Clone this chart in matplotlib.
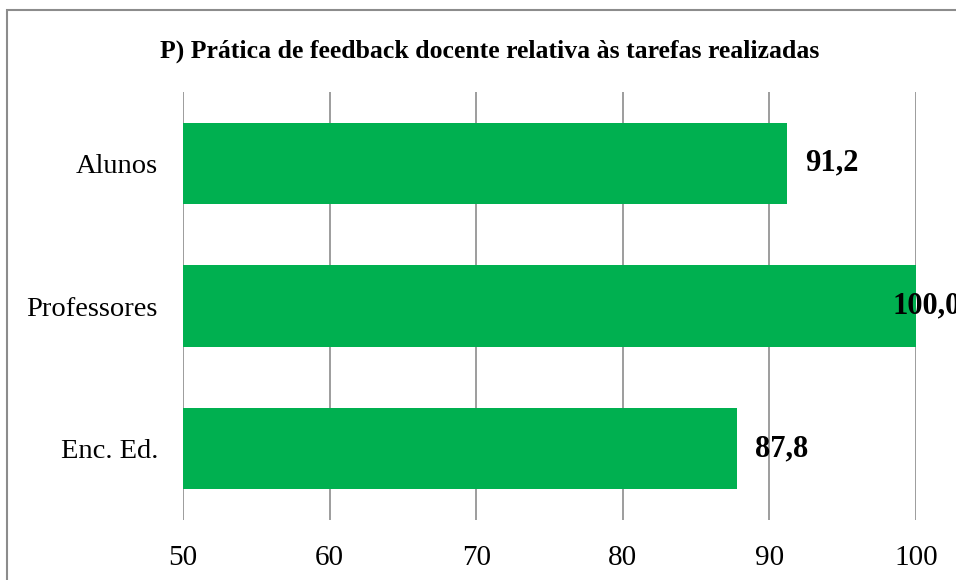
import matplotlib.pyplot as plt
from matplotlib.patches import Rectangle

grupos = ['Alunos', 'Professores', 'Enc. Ed.']
valores = [91.2, 100.0, 87.8]
ticks_x = [50, 60, 70, 80, 90, 100]
titulo = 'P) Prática de feedback docente relativa às tarefas realizadas'

verde = '#00B050'
cinza = '#8c8c8c'
W, H = 956, 580

plt.rcParams['font.family'] = ['Liberation Serif', 'DejaVu Serif']

fig = plt.figure(figsize=(W / 100, H / 100), dpi=100)
ax = fig.add_axes([183 / W, 1 - 520 / H, (916 - 183) / W, (520 - 92) / H])

pos = list(range(len(grupos)))
ax.barh(pos, valores, left=0, height=0.57, color=verde, zorder=2)
ax.set_xlim(50, 100)
ax.set_ylim(len(grupos) - 0.5, -0.5)
ax.set_yticks(pos)
ax.set_yticklabels(grupos, fontsize=20.5)
ax.set_xticks(ticks_x)
ax.set_xticklabels([str(t) for t in ticks_x], fontsize=21)
ax.tick_params(axis='both', length=0)
ax.tick_params(axis='y', pad=18)
ax.tick_params(axis='x', pad=18)
ax.grid(axis='x', color=cinza, lw=1.2, zorder=1)
for s in ax.spines.values():
    s.set_visible(False)

# rótulos de valor (o de 100 fica encostado à margem, como no Excel)
for p, v in zip(pos, valores):
    txt = f'{v:.1f}'.replace('.', ',')
    dx = 13 if v < 99 else -17
    ax.annotate(txt, (v, p), xytext=(dx, 0), textcoords='offset points',
                ha='left', va='center', fontsize=22, fontweight='bold',
                annotation_clip=False, zorder=3)

fig.text(490 / W, 1 - 51 / H, titulo, ha='center', va='center',
         fontsize=18.5, fontweight='bold')

# moldura da área do gráfico
fig.add_artist(Rectangle((7 / W, -0.1), 1.2, (H - 10) / H + 0.1,
                         transform=fig.transFigure, fill=False,
                         ec=cinza, lw=1.5))

fig.savefig('out.png', dpi=100)
